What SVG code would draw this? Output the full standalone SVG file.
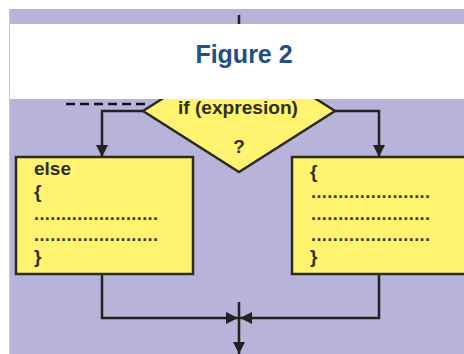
<svg xmlns="http://www.w3.org/2000/svg" width="464" height="354" viewBox="0 0 464 354">
<style>
.ln{fill:none;stroke:#222;stroke-width:2.5}
.box{fill:#fff36f;stroke:#2a2a22;stroke-width:2.5}
.t{font-family:"Liberation Sans",Arial,sans-serif;font-weight:bold;font-size:19px;fill:#2e2e22}
.dots{font-family:"Liberation Sans",Arial,sans-serif;font-weight:bold;font-size:18px;fill:#3a3a2a}
</style>
<defs>
<marker id="ah" markerUnits="userSpaceOnUse" markerWidth="13" markerHeight="13" refX="12" refY="6.5" orient="auto">
<path d="M0,0.5 L12,6.5 L0,12.5 z" fill="#222"/>
</marker>
</defs>
<rect x="0" y="0" width="464" height="354" fill="#ffffff"/>
<rect x="9" y="9" width="455" height="345" fill="#b8b3d8"/>
<line x1="9.5" y1="9" x2="9.5" y2="354" stroke="#c9c5da" stroke-width="1"/>
<g id="decision">
<polygon points="239,50 335,111 239,172 143,111" fill="#fff36f" stroke="#2a2a22" stroke-width="2.5"/>
<text class="t" x="238" y="113.5" text-anchor="middle" font-size="21" textLength="120" lengthAdjust="spacingAndGlyphs">if (expresion)</text>
<text class="t" x="239" y="153" text-anchor="middle" font-size="18">?</text>
</g>
<g id="connectors">
<line class="ln" x1="239" y1="15" x2="239" y2="50"/>
<line x1="66" y1="104" x2="146" y2="104" stroke="#111" stroke-width="2.5" stroke-dasharray="9,5"/>
<polyline class="ln" points="143,111 102,111 102,157" marker-end="url(#ah)"/>
<polyline class="ln" points="335,111 379,111 379,157" marker-end="url(#ah)"/>
<polyline class="ln" points="102,274 102,318 238,318" marker-end="url(#ah)"/>
<polyline class="ln" points="379,274 379,318 240,318" marker-end="url(#ah)"/>
<line class="ln" x1="239" y1="302" x2="239" y2="354" marker-end="url(#ah)"/>
</g>
<g id="else-box">
<rect class="box" x="16" y="157" width="177" height="117"/>
<text class="t" x="34" y="175" font-size="20">else</text>
<text class="t" x="34" y="198">{</text>
<text class="dots" x="34" y="220" textLength="124" lengthAdjust="spacing">.......................</text>
<text class="dots" x="34" y="241" textLength="124" lengthAdjust="spacing">.......................</text>
<text class="t" x="34" y="263">}</text>
</g>
<g id="then-box">
<rect class="box" x="292" y="157" width="180" height="117"/>
<text class="t" x="310" y="178">{</text>
<text class="dots" x="311" y="198" textLength="119" lengthAdjust="spacing">......................</text>
<text class="dots" x="311" y="220" textLength="119" lengthAdjust="spacing">......................</text>
<text class="dots" x="311" y="241" textLength="119" lengthAdjust="spacing">......................</text>
<text class="t" x="310" y="263">}</text>
</g>
<g id="banner">
<rect x="10" y="24" width="454" height="75" fill="#ffffff"/>
<text x="244" y="63" text-anchor="middle" font-family="'Liberation Sans',Arial,sans-serif" font-weight="bold" font-size="25" fill="#234e86">Figure 2</text>
</g>
</svg>
